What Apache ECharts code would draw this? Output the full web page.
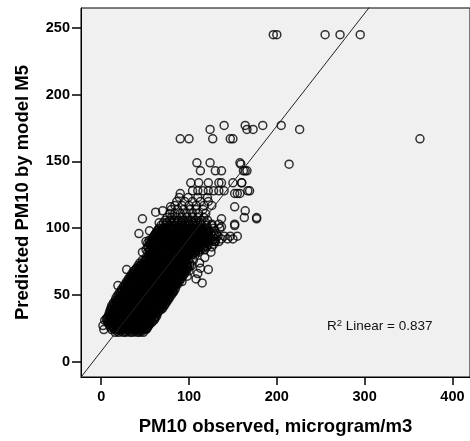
<!DOCTYPE html>
<html>
<head>
<meta charset="utf-8">
<script src="https://cdn.jsdelivr.net/npm/echarts@6/dist/echarts.min.js"></script>
<style>
html,body{margin:0;padding:0;background:#fff;}
#chart{width:470px;height:441px;}
</style>
</head>
<body>
<div id="chart"></div>
<script>
// ---- Data ----
const xTicks = [0, 100, 200, 300, 400];
const yTicks = [0, 50, 100, 150, 200, 250];
const xTitle = 'PM10 observed, microgram/m3';
const yTitle = 'Predicted PM10 by model M5';
const r2Text = 'Linear = 0.837';

// regression line (fit of predicted on observed)
const fitIntercept = 7.8;
const fitSlope = 0.844;
const fitXRange = [-23, 420];

// scattered points, [observed, predicted]
const outliers = [
  [196,245],[200,245],[255,245],[272,245],[295,245],
  [363,167],
  [226,174],[214,148],[205,177],[184,177],[173,174],[164,177],[166,174],[150,167],
  [159,148],[164,143],[160,134],[169,128],[155,126],[152,116],[164,113],[177,108],
  [90,167],[100,167],[124,174],[140,177],[127,167],[147,167],
  [109,149],[113,143],[124,149],[130,143],[137,143],[158,149],[162,143],[166,143],
  [102,134],[111,134],[122,134],[134,134],[137,134],[150,134],[160,134],
  [104,128],[110,128],[116,128],[122,128],[128,128],[134,128],[140,128],[167,128],
  [152,126],[158,126],[90,126],
  [163,108],[152,103],[137,107],[134,103],[126,103],[152,102],[177,107],[137,101],[130,90],
  [47,107],[70,113],[79,116],[43,96],[47,82],[29,69],[19,57],[62,112],[66,104],
  [115,59],[113,70],[122,69],[105,76],[100,68],[108,62],[112,74],[118,78],[125,82],[110,66],
  [2,27],[4,31],[3,24],[52,25],[56,33],[61,37],[70,44],[82,52],[92,60],[98,64],[103,72]
];

// dense lower cloud: [predicted, [observed...]]
const lowerRows = [
  [22,[16,20,25,28,33,36,41,44,48]],
  [23,[18,22,27,31,35,39,43,47]],
  [24,[12,17,20,24,29,31,36,39,43,46,51]],
  [25,[14,18,22,26,30,34,38,41,45,49,52]],
  [26,[10,14,19,23,26,30,35,38,42,45,50,53]],
  [27,[11,16,20,24,28,32,36,40,43,47,51,54]],
  [28,[9,13,17,21,24,29,33,36,41,44,48,51,55]],
  [29,[8,11,15,19,23,27,31,35,39,43,46,50,53,57]],
  [30,[7,12,15,20,24,27,32,35,39,42,47,51,54,58]],
  [31,[9,13,17,22,25,29,33,37,41,45,48,52,56,60]],
  [32,[6,11,14,19,23,26,31,34,38,42,46,49,54,57,61]],
  [33,[7,10,14,18,22,26,30,34,38,41,45,49,53,57,61]],
  [34,[8,12,15,20,24,28,31,36,40,43,47,51,55,58,63]],
  [35,[10,14,18,22,27,31,34,38,42,46,50,54,57,62]],
  [36,[9,13,17,21,24,29,33,36,40,45,48,52,56,59,64]],
  [37,[11,15,19,23,27,31,35,39,43,47,51,55,60,64]],
  [38,[10,14,17,22,26,30,33,38,42,45,50,54,57,62,66]],
  [39,[12,16,21,25,28,32,36,40,44,48,52,56,60,65,68]],
  [40,[11,15,19,23,26,31,35,38,43,47,50,55,59,62,67,70]],
  [41,[13,17,21,26,30,34,37,41,45,49,53,57,61,65,69]],
  [42,[12,17,21,24,29,33,36,41,45,48,53,57,60,65,68,72]],
  [43,[15,19,23,27,31,35,39,43,47,51,55,59,64,68,72]],
  [44,[14,18,22,25,30,34,37,42,46,49,54,58,61,66,70,74]],
  [45,[17,21,25,29,33,38,41,45,50,53,57,62,66,69,74]],
  [46,[16,19,24,28,31,36,40,43,48,52,55,60,64,67,72,76]],
  [47,[19,23,27,31,35,39,43,48,51,56,60,63,68,72,76]],
  [48,[17,22,26,29,34,38,41,46,50,53,58,62,65,70,74,78]],
  [49,[20,25,28,32,37,40,45,49,52,57,61,64,69,73,77]],
  [50,[19,24,27,32,36,39,44,48,51,56,60,63,68,72,75,80]],
  [51,[22,26,30,35,38,43,47,50,55,59,62,67,71,74,79]],
  [52,[21,26,29,34,37,42,45,50,53,58,61,66,69,74,77,82]],
  [53,[24,28,31,36,40,44,48,52,56,60,64,68,72,76,81]],
  [54,[23,27,32,35,40,43,48,51,56,59,64,67,72,75,80,84]],
  [55,[26,30,34,38,42,46,50,54,58,62,66,70,74,78,82]],
  [56,[25,30,33,37,42,45,49,54,57,61,66,69,73,78,81,85]],
  [57,[28,32,36,40,44,48,52,56,60,64,68,71,76,80,84]],
  [58,[27,31,36,39,43,48,51,55,60,63,67,72,75,79,84,87]],
  [59,[30,34,38,42,46,50,54,58,62,66,70,74,78,82,86]],
  [60,[29,33,37,42,45,49,54,57,61,66,69,73,78,81,85,89]],
  [61,[32,36,40,44,48,52,56,60,64,68,72,76,80,84,88]],
  [62,[31,36,39,43,48,51,55,60,63,67,72,75,79,84,87,91]],
  [63,[34,38,42,46,50,54,58,62,66,70,74,78,82,86,90]],
  [64,[33,37,42,45,49,54,57,61,66,69,73,78,81,85,90,93]],
  [65,[36,40,44,48,52,56,60,64,68,72,76,80,84,88,92]],
  [66,[35,39,43,48,51,55,60,63,67,72,75,79,84,87,91,95]],
  [67,[38,42,46,50,54,58,62,66,70,74,78,82,86,90,94]],
  [68,[37,42,45,49,54,57,61,66,69,73,78,81,85,90,93,97]],
  [69,[40,44,48,52,56,60,64,68,72,76,80,84,88,92,96]],
  [70,[40,43,47,52,55,59,64,67,71,76,79,83,88,91,95,99]],
  [71,[43,47,50,54,58,62,66,70,74,78,82,86,90,94,98]],
  [72,[42,45,50,53,57,62,65,69,74,77,81,86,89,93,97,101]],
  [73,[46,50,54,58,62,66,70,74,78,82,86,90,94,98]],
  [74,[44,49,52,57,60,65,68,73,76,81,84,89,92,97,101]],
  [75,[49,53,57,61,65,69,73,77,81,85,89,93,97]],
  [76,[47,51,56,59,63,68,71,75,80,83,87,92,95,99]],
  [77,[52,56,61,65,69,73,77,81,85,89,93]],
  [78,[51,55,60,63,67,72,75,79,84,87,91,96]]
];

// dense upper cloud: [predicted, [observed...]]
const upperRows = [
  [80,[55,60,63,67,72,75,79,84,87,91,96,99,103,107]],
  [81,[57,61,65,69,73,77,81,85,89,93,97,101,105]],
  [82,[53,58,62,66,71,74,78,83,86,90,95,98,102,107,111]],
  [83,[55,59,63,67,70,75,79,82,87,91,94,99,103,106,110]],
  [84,[51,56,60,65,68,72,77,80,84,89,92,96,101,104,108,113,118]],
  [85,[54,58,62,66,70,75,79,83,87,91,95,99,103,107,111,116]],
  [86,[53,57,62,65,69,74,77,81,86,89,93,98,101,105,110,114,120,126]],
  [87,[56,60,64,67,72,76,79,84,88,91,96,100,103,108,112,118]],
  [88,[55,59,63,68,71,75,80,83,87,92,95,99,104,107,111,116,122,128]],
  [89,[53,58,61,65,69,73,77,81,85,89,93,97,101,105,109,113,120]],
  [90,[51,57,61,66,70,73,78,82,85,90,94,97,102,106,109,114,118,123,129,134]],
  [91,[55,60,64,68,72,76,80,84,88,92,96,100,104,108,112,117,121,127]],
  [92,[58,62,67,70,74,79,82,86,91,94,98,103,106,110,115,119,124,130,137,144,150]],
  [93,[60,65,68,72,77,80,84,89,92,96,101,104,108,113,117,122]],
  [94,[60,64,69,72,76,81,84,88,93,96,100,105,108,112,117,122,127,133,140,147,155]],
  [95,[61,65,68,72,77,80,84,89,92,96,101,104,108,113,117,122,129]],
  [96,[62,67,70,74,79,82,86,91,94,98,103,106,110,115,119,125,131]],
  [97,[63,66,71,75,78,84,87,90,95,99,102,108,111,115,121]],
  [98,[55,64,68,73,76,80,85,88,92,97,100,104,109,112,117,123,129]],
  [99,[65,70,74,78,82,86,90,94,99,102,106,111,115,120]],
  [100,[66,71,74,78,83,86,90,95,98,102,107,110,115,121,128,135]],
  [102,[68,73,77,81,85,89,93,97,101,105,109,114,120,126]],
  [104,[71,75,80,83,87,92,95,99,104,108,113,119]],
  [106,[73,78,83,88,93,98,103,108,114,121]],
  [108,[75,80,86,92,98,104,110,117]],
  [111,[78,84,90,97,104,111,119]],
  [114,[80,87,94,101,108,116]],
  [117,[84,92,100,108,117,126]],
  [120,[86,95,104,113,122]],
  [123,[89,99,110,121]]
];

// ---- build ----
const points = outliers.slice();
[lowerRows, upperRows].forEach(rows => rows.forEach(([y, xs]) => xs.forEach(x => points.push([x, y]))));
const fitLine = fitXRange.map(x => [x, fitIntercept + fitSlope * x]);

const FONT = 'Liberation Sans, Arial, sans-serif';
const chart = echarts.init(document.getElementById('chart'), null, {renderer: 'canvas'});
chart.setOption({
  animation: false,
  backgroundColor: '#ffffff',
  grid: {
    left: 81, top: 8, width: 393, height: 371,
    show: true, backgroundColor: '#f0f0f0', borderColor: '#000', borderWidth: 1
  },
  xAxis: {
    type: 'value', min: -23, max: 420,
    axisLine: {show: true, onZero: false, lineStyle: {color: '#000', width: 1}},
    axisTick: {show: true, length: 8, customValues: xTicks, lineStyle: {color: '#000', width: 1.5}},
    axisLabel: {customValues: xTicks, color: '#000', fontWeight: 'bold', fontSize: 14.5, fontFamily: FONT, margin: 12},
    splitLine: {show: false},
    name: xTitle, nameLocation: 'middle', nameGap: 40,
    nameTextStyle: {color: '#000', fontWeight: 'bold', fontSize: 18.5, fontFamily: FONT}
  },
  yAxis: {
    type: 'value', min: -11.5, max: 265,
    axisLine: {show: true, onZero: false, lineStyle: {color: '#000', width: 1}},
    axisTick: {show: true, length: 9, customValues: yTicks, lineStyle: {color: '#000', width: 1.5}},
    axisLabel: {customValues: yTicks, color: '#000', fontWeight: 'bold', fontSize: 14.5, fontFamily: FONT, margin: 11},
    splitLine: {show: false},
    name: yTitle, nameLocation: 'middle', nameGap: 49,
    nameTextStyle: {color: '#000', fontWeight: 'bold', fontSize: 18.5, fontFamily: FONT}
  },
  series: [
    {
      type: 'scatter', data: points, symbol: 'circle', symbolSize: 8,
      itemStyle: {color: 'rgba(0,0,0,0)', borderColor: '#000', borderWidth: 1.5},
      emphasis: {disabled: true}, silent: true, z: 2
    },
    {
      type: 'line', data: fitLine, showSymbol: false, clip: true,
      lineStyle: {color: '#222', width: 1}, silent: true, z: 3
    }
  ],
  graphic: [{
    type: 'text', left: 327, top: 318, z: 10,
    style: {
      text: '{a|R}{s|2}{a| ' + r2Text + '}',
      rich: {
        a: {fontSize: 13.5, fontFamily: FONT, fill: '#111', color: '#111', lineHeight: 16},
        s: {fontSize: 9.5, fontFamily: FONT, fill: '#111', color: '#111', verticalAlign: 'top', lineHeight: 16}
      }
    }
  }]
});
</script>
</body>
</html>
